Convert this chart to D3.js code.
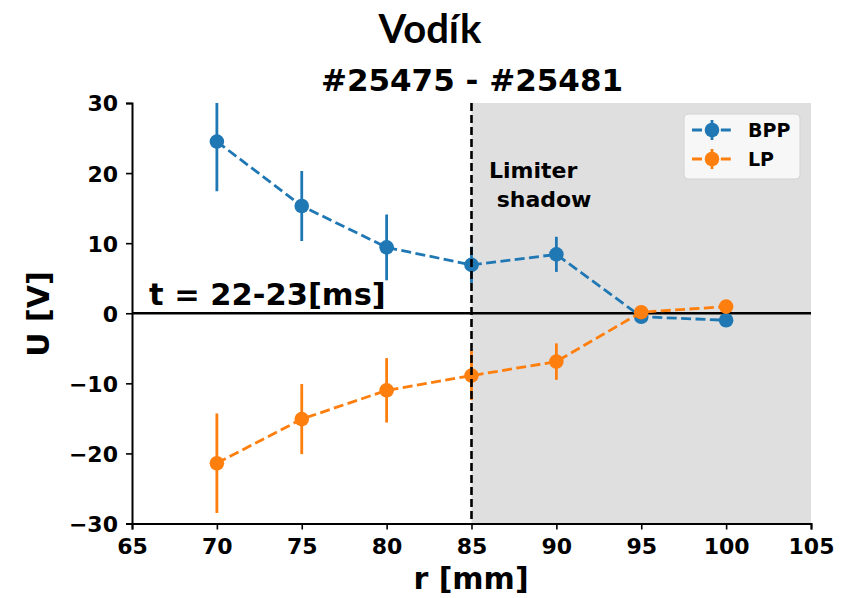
<!DOCTYPE html>
<html>
<head>
<meta charset="utf-8">
<script src="https://cdn.jsdelivr.net/npm/d3@7"></script>
<style>
  html, body { margin: 0; padding: 0; background: #fff; }
  svg { display: block; }
  text { font-family: "DejaVu Sans", sans-serif; font-weight: bold; }
</style>
</head>
<body>
<svg id="chart" width="853" height="598"></svg>
<script>
// Radial positions [mm]
const radius = [70, 75, 80, 85, 90, 95, 100];
// Floating potential, ball-pen probe (BPP) and Langmuir probe (LP) [V]
const bppValues = [24.5, 15.3, 9.4, 6.9, 8.4, -0.5, -1.0];
const bppErrors = [7.1, 5.0, 4.7, 2.6, 2.5, 0.3, 0.3];
const lpValues = [-21.4, -15.1, -11.0, -8.9, -6.9, 0.15, 0.95];
const lpErrors = [7.1, 5.0, 4.6, 3.5, 2.6, 0.3, 0.3];
const xTicks = [65, 70, 75, 80, 85, 90, 95, 100, 105];
const yTicks = [-30, -20, -10, 0, 10, 20, 30];
const limiterEdge = 85;
const seriesNames = ["BPP", "LP"];
const seriesColors = ["#1f77b4", "#ff7f0e"];

const svg = d3.select("#chart");
const plotLeft = 132, plotRight = 811, plotTop = 103, plotBottom = 523.5;
const x = d3.scaleLinear().domain([65, 105]).range([plotLeft, plotRight]);
const y = d3.scaleLinear().domain([-30, 30]).range([plotBottom, plotTop]);

svg.append("defs").append("clipPath").attr("id", "plotClip")
  .append("rect").attr("x", plotLeft).attr("y", plotTop)
  .attr("width", plotRight - plotLeft).attr("height", plotBottom - plotTop);

// Limiter shadow region
svg.append("rect")
  .attr("x", x(limiterEdge)).attr("y", y(30))
  .attr("width", x(105) - x(limiterEdge)).attr("height", y(-30) - y(30))
  .attr("fill", "#dfdfdf");

// Zero line
svg.append("line")
  .attr("x1", x(65)).attr("x2", x(105)).attr("y1", y(0)).attr("y2", y(0))
  .attr("stroke", "#000").attr("stroke-width", 2.5);

// Axes
const fmt = d => d < 0 ? "\u2212" + Math.abs(d) : String(d);
const yAxis = svg.append("g").attr("transform", `translate(${plotLeft},0)`)
  .call(d3.axisLeft(y).tickValues(yTicks).tickSize(6).tickPadding(8).tickFormat(fmt));
const xAxis = svg.append("g").attr("transform", `translate(0,${plotBottom})`)
  .call(d3.axisBottom(x).tickValues(xTicks).tickSize(6).tickPadding(9).tickFormat(fmt));
[xAxis, yAxis].forEach(a => {
  a.selectAll("path.domain").attr("stroke", "#000").attr("stroke-width", 2);
  a.selectAll(".tick line").attr("stroke", "#000").attr("stroke-width", 1.6);
  a.selectAll("text").attr("fill", "#000")
    .style("font-family", "'DejaVu Sans', sans-serif")
    .style("font-weight", "bold").style("font-size", "22px");
});
yAxis.selectAll("text").attr("dy", "0.36em");

const plot = svg.append("g").attr("clip-path", "url(#plotClip)");
const series = [
  { name: seriesNames[0], color: seriesColors[0], values: bppValues, errors: bppErrors },
  { name: seriesNames[1], color: seriesColors[1], values: lpValues, errors: lpErrors }
];

// Error bars
series.forEach(s => {
  plot.append("g").selectAll("line").data(radius).join("line")
    .attr("x1", d => x(d)).attr("x2", d => x(d))
    .attr("y1", (d, i) => y(s.values[i] + s.errors[i]))
    .attr("y2", (d, i) => y(s.values[i] - s.errors[i]))
    .attr("stroke", s.color).attr("stroke-width", 2.8);
});

// Limiter edge marker
svg.append("line")
  .attr("x1", x(limiterEdge)).attr("x2", x(limiterEdge))
  .attr("y1", y(30)).attr("y2", y(-30))
  .attr("stroke", "#000").attr("stroke-width", 2.6)
  .attr("stroke-dasharray", "8,4");

// Dashed series lines and markers
const line = d3.line().x(d => x(d[0])).y(d => y(d[1]));
series.forEach(s => {
  const pts = radius.map((r, i) => [r, s.values[i]]);
  plot.append("path").datum(pts).attr("d", line)
    .attr("fill", "none").attr("stroke", s.color)
    .attr("stroke-width", 2.8).attr("stroke-dasharray", "10,4.4");
  plot.append("g").selectAll("circle").data(pts).join("circle")
    .attr("cx", d => x(d[0])).attr("cy", d => y(d[1])).attr("r", 7.3)
    .attr("fill", s.color);
});

// Annotations
svg.append("text").attr("x", 149).attr("y", 305)
  .style("font-size", "30.5px").text("t = 22-23[ms]");
const shadow = svg.append("text").style("font-size", "22px");
shadow.append("tspan").attr("x", 489).attr("y", 178).text("Limiter");
shadow.append("tspan").attr("x", 489).attr("y", 207).text("\u00a0shadow");

// Legend
const lg = svg.append("g");
lg.append("rect").attr("x", 684).attr("y", 114).attr("width", 116).attr("height", 65)
  .attr("rx", 4).attr("fill", "#f7f7f7").attr("stroke", "#d2d2d2").attr("stroke-width", 1);
series.forEach((s, i) => {
  const ly = 130 + i * 29;
  lg.append("line").attr("x1", 692).attr("x2", 732).attr("y1", ly).attr("y2", ly)
    .attr("stroke", s.color).attr("stroke-width", 2.8).attr("stroke-dasharray", "10,4.4");
  lg.append("line").attr("x1", 712).attr("x2", 712).attr("y1", ly - 10).attr("y2", ly + 10)
    .attr("stroke", s.color).attr("stroke-width", 2.8);
  lg.append("circle").attr("cx", 712).attr("cy", ly).attr("r", 7.3).attr("fill", s.color);
  lg.append("text").attr("x", 748).attr("y", ly + 7).style("font-size", "19px").text(s.name);
});

// Titles and axis labels
svg.append("text").attr("x", 430).attr("y", 43).attr("text-anchor", "middle")
  .style("font-family", "Lato, 'Open Sans', sans-serif").style("font-size", "40px")
  .text("Vodík");
svg.append("text").attr("x", 472).attr("y", 91).attr("text-anchor", "middle")
  .style("font-size", "31px").text("#25475 - #25481");
svg.append("text").attr("x", 471).attr("y", 589).attr("text-anchor", "middle")
  .style("font-size", "30px").text("r [mm]");
svg.append("text").attr("transform", "translate(49,314) rotate(-90)")
  .attr("text-anchor", "middle").style("font-size", "30px").text("U [V]");
</script>
</body>
</html>
